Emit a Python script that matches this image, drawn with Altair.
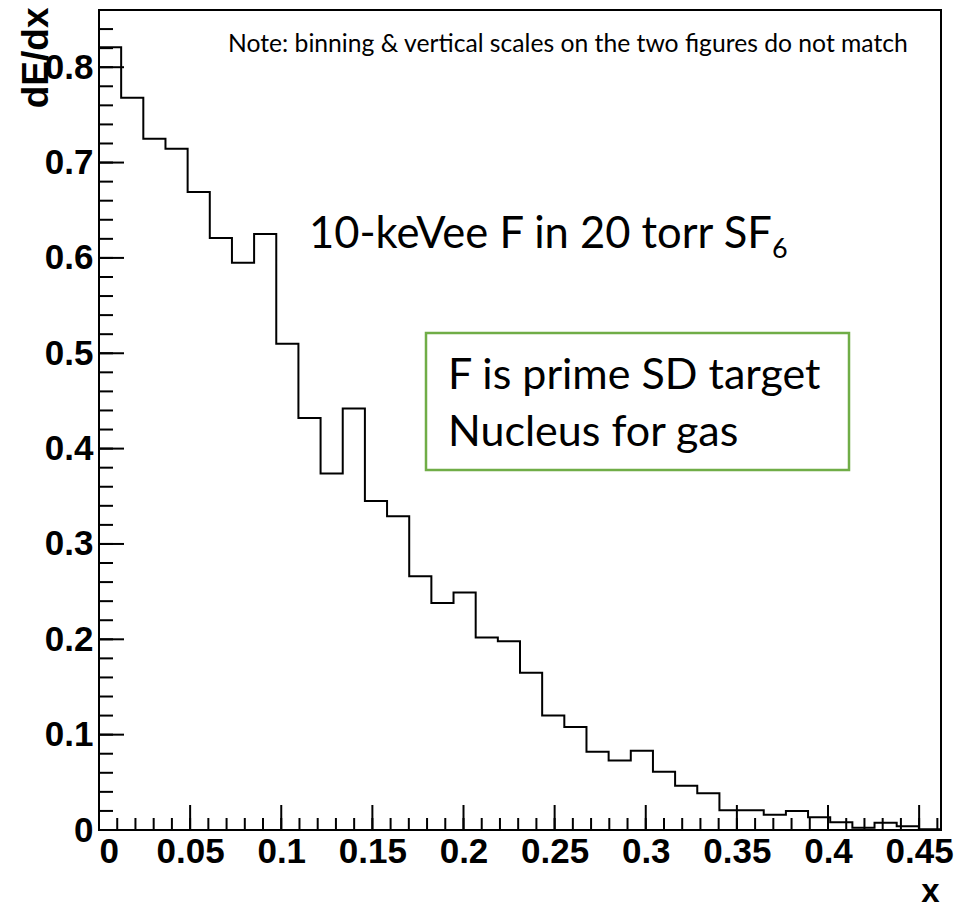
import altair as alt
import pandas as pd

# ---- data ----
X_MAX = 0.462
N_BINS = 38
BIN_WIDTH = X_MAX / N_BINS
dEdx = [0.821, 0.768, 0.725, 0.7145, 0.669, 0.621, 0.595, 0.625, 0.510, 0.432,
        0.374, 0.442, 0.345, 0.329, 0.266, 0.238, 0.249, 0.202, 0.198, 0.165,
        0.120, 0.108, 0.082, 0.073, 0.083, 0.061, 0.0465, 0.0385, 0.0206, 0.0206,
        0.016, 0.020, 0.0133, 0.008, 0.0024, 0.0077, 0.0039, 0.0007]
y_major = [0, 0.1, 0.2, 0.3, 0.4, 0.5, 0.6, 0.7, 0.8]
y_minor = [round(k * 0.02, 4) for k in range(0, 44)]
x_major = [0, 0.05, 0.1, 0.15, 0.2, 0.25, 0.3, 0.35, 0.4, 0.45]
x_minor = [round(k * 0.01, 4) for k in range(0, 47)]
note_text = "Note: binning & vertical scales on the two figures do not match"
main_text = "10-keVee F in 20 torr SF"
sub_text = "6"
box_lines = ["F is prime SD target", "Nucleus for gas"]

W, H = 842, 820
Y_MAX = 0.86

edges = [i * BIN_WIDTH for i in range(N_BINS)] + [N_BINS * BIN_WIDTH]
vals = dEdx + [dEdx[-1]]
hist = pd.DataFrame({"x": edges, "y": vals})

xs = alt.Scale(domain=[0, X_MAX], nice=False, zero=False)
ys = alt.Scale(domain=[0, Y_MAX], nice=False)

lab = dict(labelFont="Liberation Sans", labelFontWeight="bold", labelFontSize=35,
           labelColor="black", ticks=False, grid=False, domain=False,
           labelOverlap=False, format="~g",
           titleFont="Liberation Sans", titleFontWeight="bold",
           titleColor="black")

line = alt.Chart(hist).mark_line(interpolate="step-after", color="black", strokeWidth=2).encode(
    x=alt.X("x:Q", scale=xs, axis=alt.Axis(values=x_major, labelPadding=4,
                                            title="x", titleAlign="right", titleX=W - 2,
                                            titleY=71, titleBaseline="alphabetic",
                                            titleFontSize=33, **lab)),
    y=alt.Y("y:Q", scale=ys, axis=alt.Axis(values=y_major, labelPadding=6,
                                            title="dE/dx", titleAngle=-90, titleAlign="right",
                                            titleBaseline="alphabetic", titleX=-52, titleY=-3,
                                            titleFontSize=37, **lab)),
)

ymaj = alt.Chart(pd.DataFrame({"v": y_major})).mark_rule(color="black", strokeWidth=2).encode(
    y=alt.Y("v:Q", scale=ys), x=alt.value(0), x2=alt.value(25))
ymin = alt.Chart(pd.DataFrame({"v": y_minor})).mark_rule(color="black", strokeWidth=2).encode(
    y=alt.Y("v:Q", scale=ys), x=alt.value(0), x2=alt.value(14))
xmaj = alt.Chart(pd.DataFrame({"v": x_major})).mark_rule(color="black", strokeWidth=2).encode(
    x=alt.X("v:Q", scale=xs), y=alt.value(H), y2=alt.value(H - 25))
xmin = alt.Chart(pd.DataFrame({"v": x_minor})).mark_rule(color="black", strokeWidth=2).encode(
    x=alt.X("v:Q", scale=xs), y=alt.value(H), y2=alt.value(H - 12))

box = alt.Chart(pd.DataFrame({"a": [0]})).mark_rect(
    fill="white", stroke="#70AD47", strokeWidth=2.5).encode(
    x=alt.value(327), x2=alt.value(750), y=alt.value(323), y2=alt.value(460))

frame = alt.Chart(pd.DataFrame({"a": [0]})).mark_rect(
    fillOpacity=0, stroke="black", strokeWidth=2).encode(
    x=alt.value(0), x2=alt.value(W), y=alt.value(0), y2=alt.value(H))

def txt(t, x, y, size):
    return alt.Chart(pd.DataFrame({"t": [t]})).mark_text(
        font="Lato", fontSize=size, align="left", baseline="alphabetic", color="black").encode(
        text="t:N", x=alt.value(x), y=alt.value(y))

note = txt(note_text, 129, 42, 24.7)
main = txt(main_text, 210, 238, 43.5)
sub = txt(sub_text, 673, 248, 27)
b1 = txt(box_lines[0], 349, 379, 43)
b2 = txt(box_lines[1], 349, 436, 43)

chart = alt.layer(ymin, ymaj, xmin, xmaj, line, box, note, main, sub, b1, b2, frame).properties(
    width=W, height=H,
    autosize=alt.AutoSizeParams(type="none"),
    padding={"left": 99, "top": 10, "right": 18, "bottom": 80},
).configure_view(stroke=None).configure(background="white")

chart.save("out.html", embed_options={"renderer": "svg", "actions": False})
